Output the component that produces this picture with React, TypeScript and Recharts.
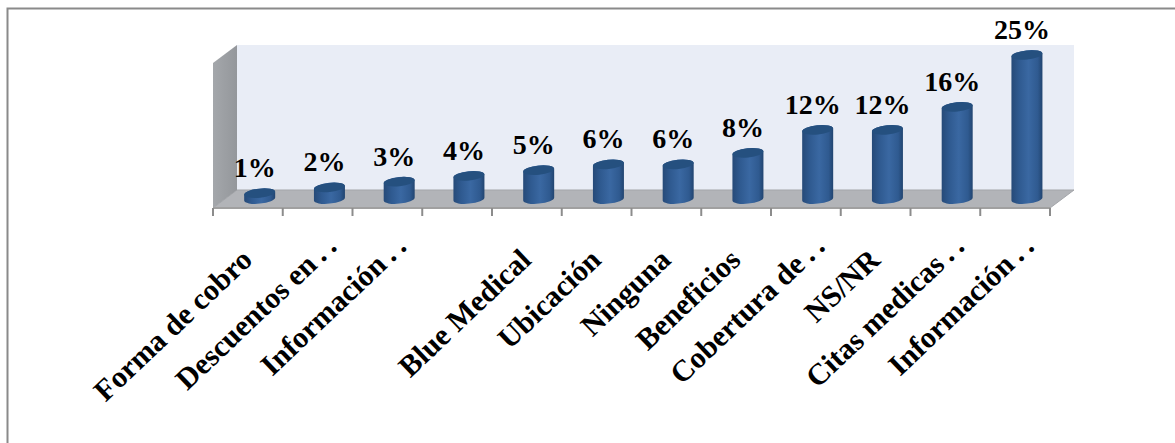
import React from "react";
import { BarChart, Bar, XAxis, YAxis, LabelList } from "recharts";

const shares = [1, 2, 3, 4, 5, 6, 6, 8, 12, 12, 16, 25];
const labels = [
  "Forma de cobro",
  "Descuentos en\u2009.\u2009.",
  "Información\u2009.\u2009.",
  "",
  "Blue Medical",
  "Ubicación",
  "Ninguna",
  "Beneficios",
  "Cobertura de\u2009.\u2009.",
  "NS/NR",
  "Citas medicas\u2009.\u2009.",
  "Información\u2009.\u2009.",
];

const rows = shares.map((share, i) => ({ key: String(i), name: labels[i], share }));

const WIDTH = 1175;
const HEIGHT = 443;
const FONT = '"Liberation Serif", "Times New Roman", serif';

// The floor sits below the zero line, which leaves room for the cylinders' perspective.
const DOMAIN: [number, number] = [-1.5625, 25];
const PLOT = { left: 213, right: 1050, top: 55, bottom: 208 };
const DEPTH = { x: 24, y: 18 };
const WALL_TOP = 45;
const BAND = (PLOT.right - PLOT.left) / rows.length;
const LABEL_ANGLE = 43.5;
// Shortened labels reach further along their slope than complete ones.
const SHORTENED_REACH = 20;

function Cylinder(props: any) {
  const { x, y, width, height } = props;
  const rx = width / 2;
  const ry = 4.6;
  const tilt = 1.6;
  // Cylinders stand halfway into the floor's depth.
  const cx = x + width / 2 + DEPTH.x / 2;
  const l = cx - rx;
  const r = cx + rx;
  const top = y;
  const bot = y + height;
  const body = `M${l},${top + tilt} L${l},${bot + tilt} A${rx},${ry} -6 0 0 ${r},${bot - tilt} L${r},${top - tilt} A${rx},${ry} -6 0 0 ${l},${top + tilt} Z`;
  return (
    <g>
      <path d={body} fill="url(#cylinderBody)" />
      <ellipse cx={cx} cy={top} rx={rx} ry={ry} transform={`rotate(-6 ${cx} ${top})`} fill="#25507f" />
    </g>
  );
}

function AxisTick(props: any) {
  const { x, y, payload, index } = props;
  const text = labels[Number(payload.value)];
  const reach = text.endsWith(".") ? SHORTENED_REACH : 0;
  const rad = (LABEL_ANGLE * Math.PI) / 180;
  const ax = x + 6 + reach * Math.cos(rad);
  const ay = y + 46 - reach * Math.sin(rad);
  const edge = x - BAND / 2;
  return (
    <g>
      <line x1={edge} x2={edge} y1={PLOT.bottom} y2={PLOT.bottom + 8} stroke="#8c8c8c" strokeWidth={2} />
      {index === rows.length - 1 && (
        <line x1={edge + BAND} x2={edge + BAND} y1={PLOT.bottom} y2={PLOT.bottom + 8} stroke="#8c8c8c" strokeWidth={2} />
      )}
      <text
        x={ax}
        y={ay}
        transform={`rotate(${-LABEL_ANGLE} ${ax} ${ay})`}
        textAnchor="end"
        fontFamily={FONT}
        fontWeight="bold"
        fontSize={30}
        fill="#000"
      >
        {text}
      </text>
    </g>
  );
}

function ValueLabel(props: any) {
  const { x, y, width, value } = props;
  return (
    <text
      x={x + width / 2 + DEPTH.x / 2 - 5}
      y={y - 16}
      textAnchor="middle"
      fontFamily={FONT}
      fontWeight="bold"
      fontSize={28}
      fill="#000"
    >
      {value}%
    </text>
  );
}

export default function App() {
  const { left, right, bottom } = PLOT;
  const backLeft = left + DEPTH.x;
  const backRight = right + DEPTH.x;
  const backBottom = bottom - DEPTH.y;
  return (
    <div style={{ position: "absolute", left: 0, top: 0, width: WIDTH, height: HEIGHT, background: "#fff", overflow: "hidden" }}>
      <BarChart
        width={WIDTH}
        height={HEIGHT}
        data={rows}
        margin={{ left: PLOT.left, right: WIDTH - PLOT.right, top: PLOT.top, bottom: 0 }}
        barCategoryGap="27.5%"
      >
        <defs>
          <linearGradient id="cylinderBody" x1="0" x2="1" y1="0" y2="0">
            <stop offset="0" stopColor="#264a78" />
            <stop offset="0.25" stopColor="#2f5a90" />
            <stop offset="0.55" stopColor="#3a68a2" />
            <stop offset="0.85" stopColor="#2f5a90" />
            <stop offset="1" stopColor="#224570" />
          </linearGradient>
          <linearGradient id="sideWall" x1="0" x2="1" y1="0" y2="0">
            <stop offset="0" stopColor="#a4a7ab" />
            <stop offset="1" stopColor="#94979b" />
          </linearGradient>
        </defs>
        <polyline points={`1175,8.5 7.5,8.5 7.5,443`} fill="none" stroke="#8a8a8a" strokeWidth={2} />
        <rect x={backLeft} y={WALL_TOP} width={right - left} height={backBottom - WALL_TOP} fill="#e9edf6" />
        <polygon
          points={`${left},${bottom} ${backLeft},${backBottom} ${backRight},${backBottom} ${right},${bottom}`}
          fill="#b2b4b8"
          stroke="#a3a5a9"
        />
        <polygon
          points={`${left},${WALL_TOP + DEPTH.y} ${backLeft},${WALL_TOP} ${backLeft},${backBottom} ${left},${bottom}`}
          fill="url(#sideWall)"
        />
        <XAxis
          dataKey="key"
          interval={0}
          height={HEIGHT - PLOT.bottom}
          axisLine={{ stroke: "#a0a0a0", strokeWidth: 2 }}
          tickLine={false}
          tick={<AxisTick />}
        />
        <YAxis hide domain={DOMAIN} />
        <Bar dataKey="share" shape={<Cylinder />} isAnimationActive={false}>
          <LabelList dataKey="share" content={<ValueLabel />} />
        </Bar>
      </BarChart>
    </div>
  );
}
